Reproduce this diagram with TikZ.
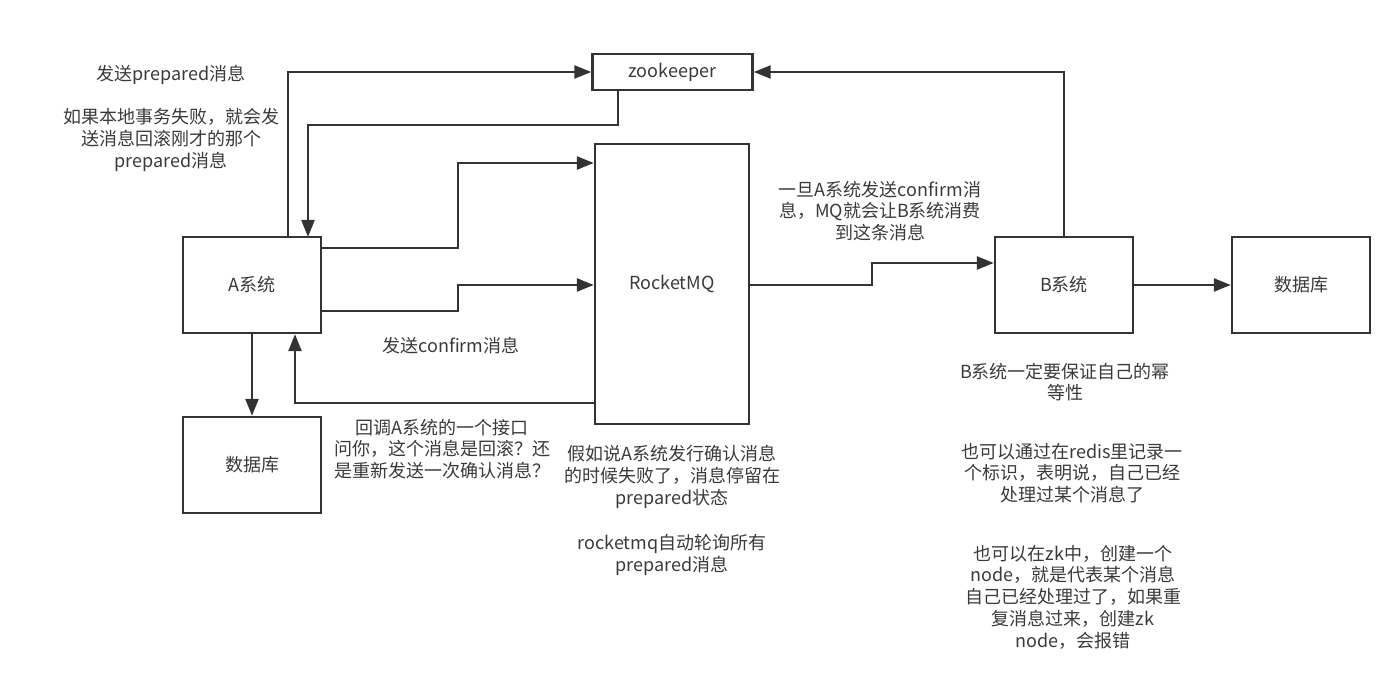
\documentclass[tikz,border=0pt]{standalone}
\usepackage{fontspec}
\setmainfont{Noto Sans CJK SC}
\usetikzlibrary{arrows.meta}
\definecolor{ink}{HTML}{333333}
\definecolor{txt}{HTML}{3A3A3A}
\begin{document}
\begin{tikzpicture}[x=1pt,y=-1pt,
  box/.style={draw=ink,line width=2.4pt,fill=white,inner sep=0pt,text=txt,font=\fontsize{18}{22}\selectfont},
  conn/.style={draw=ink,line width=2.4pt,-{Triangle[length=17pt,width=13pt]}},
  note/.style={text=txt,align=center,inner sep=0pt,font=\fontsize{18}{21.8}\selectfont}]
\useasboundingbox (0,0) rectangle (1400,687);
% boxes
\node[box,minimum width=138pt,minimum height=96pt] (A) at (252,285) {A系统};
\node[box,minimum width=138pt,minimum height=96pt] (DBA) at (252,465) {数据库};
\node[box,minimum width=160pt,minimum height=36pt] (ZK) at (672.5,72) {zookeeper};
\node[box,minimum width=154pt,minimum height=280pt] (MQ) at (672,284) {RocketMQ};
\node[box,minimum width=138pt,minimum height=96pt] (B) at (1064,285) {B系统};
\node[box,minimum width=138pt,minimum height=96pt] (DBB) at (1301,285) {数据库};
% connectors
\coordinate (a1) at (288,237);
\coordinate (a2) at (308,237);
\draw[conn] (a1) |- (ZK.west);
\draw[conn] (ZK.south -| 618,0) |- (308,125) -- (a2);
\draw[conn] (321,248) -| (458,163) -- (MQ.west |- 0,163);
\draw[conn] (321,311) -| (458,285) -- (MQ.west |- 0,285);
\draw[conn] (MQ.west |- 0,403) -| (A.south -| 295,0);
\draw[conn] (A.south -| 252,0) -- (DBA.north -| 252,0);
\draw[conn] (MQ.east |- 0,285) -| (872,263) -- (B.west |- 0,263);
\draw[conn] (B.north -| 1064,0) |- (ZK.east);
\draw[conn] (B.east) -- (DBB.west);
% notes
\node[note] (n1) at (171,75) {发送prepared消息};
\node[note] (n2) at (171,140) {如果本地事务失败，就会发\\送消息回滚刚才的那个\\prepared消息};
\node[note] (n3) at (451,346) {发送confirm消息};
\node[note] (n4) at (442,449) {回调A系统的一个接口\\问你，这个消息是回滚？还\\是重新发送一次确认消息？};
\node[note] (n5) at (672,477) {假如说A系统发行确认消息\\的时候失败了，消息停留在\\prepared状态};
\node[note] (n6) at (672,555) {rocketmq自动轮询所有\\prepared消息};
\node[note] (n7) at (880,211) {一旦A系统发送confirm消\\息，MQ就会让B系统消费\\到这条消息};
\node[note] (n8) at (1065,382) {B系统一定要保证自己的幂\\等性};
\node[note] (n9) at (1072,473) {也可以通过在redis里记录一\\个标识，表明说，自己已经\\处理过某个消息了};
\node[note] (n10) at (1073,597) {也可以在zk中，创建一个\\node，就是代表某个消息\\自己已经处理过了，如果重\\复消息过来，创建zk\\node，会报错};
\end{tikzpicture}
\end{document}
